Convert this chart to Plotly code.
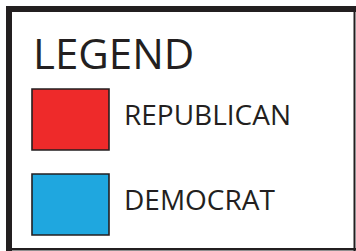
import plotly.graph_objects as go

title = "LEGEND"
categories = ["REPUBLICAN", "DEMOCRAT"]
colors = ["#ee2a2a", "#1fa7df"]
swatch_top = [89, 174]
swatch_height = [61, 61]

W, H = 356, 251
ink = "#231f20"

fig = go.Figure()

# swatches
fig.add_trace(go.Bar(
    x=[70.5] * len(categories),
    y=swatch_height,
    base=swatch_top,
    width=[77] * len(categories),
    marker=dict(color=colors, line=dict(color=ink, width=1.6)),
    hoverinfo="skip",
    showlegend=False,
))

# labels
for i, c in enumerate(categories):
    fig.add_annotation(x=122, y=swatch_top[i] + swatch_height[i] / 2 - 5.5, text=c,
                       xref="x", yref="y", showarrow=False, xanchor="left", yanchor="middle",
                       font=dict(family="Open Sans", size=28, color=ink))

fig.add_annotation(x=31, y=52, text=title, xref="x", yref="y", showarrow=False,
                   xanchor="left", yanchor="middle",
                   font=dict(family="Open Sans", size=42, color=ink))

# frame edges (thicker top/left)
frame = [
    (6, 6, 356, 12),     # top
    (6, 6, 12, 251),     # left
    (353.5, 6, 355.5, 251),  # right
    (6, 248, 356, 250.5),  # bottom
]
for x0, y0, x1, y1 in frame:
    fig.add_shape(type="rect", x0=x0, y0=y0, x1=x1, y1=y1, xref="x", yref="y",
                  fillcolor=ink, line=dict(width=0), layer="above")

fig.update_layout(
    width=W, height=H,
    margin=dict(l=0, r=0, t=0, b=0),
    paper_bgcolor="white", plot_bgcolor="white",
    barmode="overlay",
    xaxis=dict(range=[0, W], visible=False, fixedrange=True),
    yaxis=dict(range=[H, 0], visible=False, fixedrange=True),
)

fig.write_html("out.html", config={"displayModeBar": False},
               post_script="document.body.style.margin='0';document.body.style.overflow='hidden';")
